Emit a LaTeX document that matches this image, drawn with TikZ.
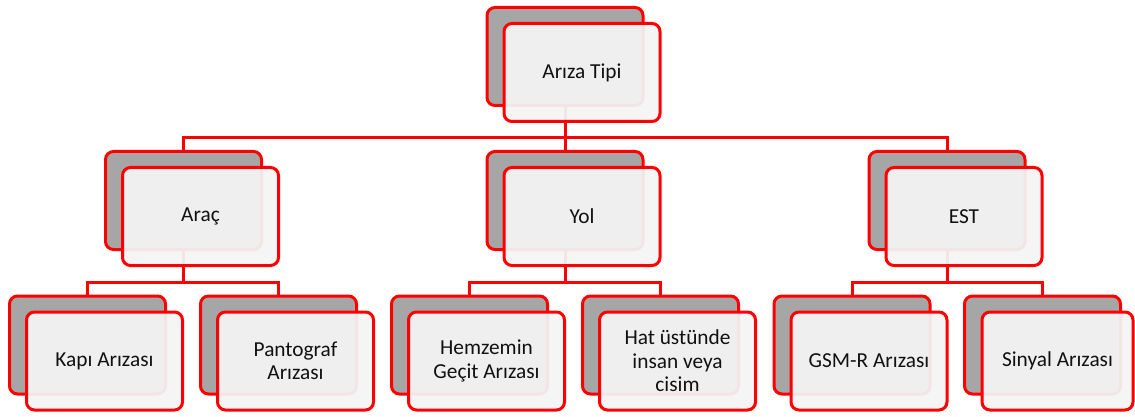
\documentclass[tikz,border=0pt]{standalone}
\usepackage{fontspec}
\setmainfont{Carlito}
\definecolor{shadowgray}{HTML}{A6A6A6}
\definecolor{paper}{HTML}{F4F4F4}
\definecolor{ink}{HTML}{111111}
\pgfdeclarelayer{bg}
\pgfsetlayers{bg,main}
\begin{document}
\begin{tikzpicture}[x=0.75pt,y=-0.75pt,
  card/.style={draw=red, line width=2.25pt, rounded corners=6pt,
    minimum width=117pt, minimum height=73.5pt, inner sep=0pt},
  back/.style={card, fill=shadowgray},
  front/.style={card, fill=paper, fill opacity=0.94, text opacity=1,
    align=center, text=ink, font=\fontsize{16}{17.5}\selectfont},
  link/.style={draw=red, line width=2.25pt}]
\useasboundingbox (0,0) rectangle (1135,417);

% top level
\node[back]  (topB) at (565,56.5) {};
\node[front] (top)  at (582,72.5) {Arıza Tipi};

% second level
\node[back]  (aracB) at (183.5,200.5) {};
\node[front] (arac)  at (200.5,216.5) {Araç};
\node[back]  (yolB)  at (565,200.5) {};
\node[front] (yol)   at (582,216.5) {Yol};
\node[back]  (estB)  at (947,200.5) {};
\node[front] (est)   at (964,216.5) {EST};

% third level
\node[back]  (kapiB)  at (87.5,345) {};
\node[front] (kapi)   at (104.5,361) {Kapı Arızası};
\node[back]  (pantoB) at (278.5,345) {};
\node[front] (panto)  at (295.5,361) {Pantograf\\Arızası};
\node[back]  (hemB)   at (469.5,345) {};
\node[front] (hem)    at (486.5,361) {Hemzemin\\Geçit Arızası};
\node[back]  (hatB)   at (660.5,345) {};
\node[front] (hat)    at (677.5,361) {Hat üstünde\\insan veya\\cisim};
\node[back]  (gsmB)   at (852,345) {};
\node[front] (gsm)    at (869,361) {GSM-R Arızası};
\node[back]  (sinB)   at (1042.5,345) {};
\node[front, minimum width=113.25pt] (sin) at (1057.5,361) {Sinyal Arızası};

% connectors, kept behind the cards
\begin{pgfonlayer}{bg}
\draw[link] (topB.south) -- ++(0,30.5) -| (aracB.north);
\draw[link] (topB.south) -- ++(0,30.5) -| (estB.north);
\draw[link] (topB.south) -- (yolB.north);

\draw[link] (aracB.south) -- ++(0,31.5) -| (kapiB.north);
\draw[link] (aracB.south) -- ++(0,31.5) -| (pantoB.north);
\draw[link] (yolB.south) -- ++(0,31.5) -| (hemB.north);
\draw[link] (yolB.south) -- ++(0,31.5) -| (hatB.north);
\draw[link] (estB.south) -- ++(0,31.5) -| (gsmB.north);
\draw[link] (estB.south) -- ++(0,31.5) -| (sinB.north);
\end{pgfonlayer}
\end{tikzpicture}
\end{document}
